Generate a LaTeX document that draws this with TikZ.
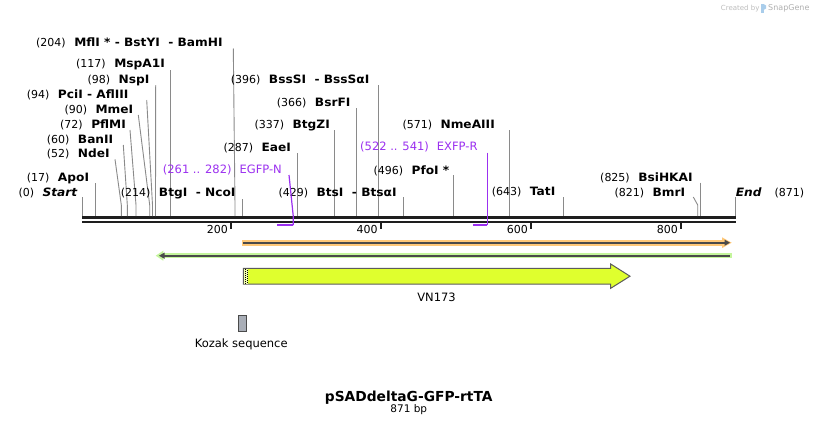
\documentclass[tikz,border=0pt]{standalone}
\usepackage{fontspec}
\setmainfont{DejaVu Sans}
\newfontfamily\enzfont{DejaVu Sans}[FakeStretch=1.06]
\usetikzlibrary{calc}
\definecolor{cutgray}{HTML}{8A8A8A}
\definecolor{bb}{HTML}{1E1E1E}
\definecolor{prim}{HTML}{9B30F0}
\definecolor{orangeL}{HTML}{FFC878}
\definecolor{greenL}{HTML}{C4F59C}
\definecolor{darkln}{HTML}{4A4A4A}
\definecolor{featY}{HTML}{DFFF2E}
\definecolor{kozak}{HTML}{A9AEB7}
\definecolor{wm}{HTML}{BDBDBD}
\definecolor{wmblue}{HTML}{A9CDEB}
\newcommand\enz[1]{{\enzfont\bfseries\fontsize{11.5}{13}\selectfont #1}}
\tikzset{
  lbl/.style={anchor=base west, inner sep=0pt, font=\fontsize{11}{13}\selectfont},
  cutline/.style={draw=cutgray, line width=0.9pt},
  primline/.style={draw=prim, line width=1.2pt},
  primbar/.style={draw=prim, line width=2pt},
  ticklbl/.style={anchor=base east, inner sep=0pt, font=\fontsize{11}{13}\selectfont},
}
% #1 name, #2 label x, #3 baseline y, #4 number, #5 enzyme, #6 top x, #7 top y, #8 site x
\newcommand\cutsite[8]{%
  \node[lbl] (L#1) at (#2,#3) {(#4)\hspace{8.5pt}\enz{#5}};
  \coordinate (T#1) at (#6,#7);
  \coordinate (K#1) at (#8,205);
  \coordinate (S#1) at (#8,216);
  \draw[cutline] (T#1) -- (K#1) -- (S#1);
}
\begin{document}
\begin{tikzpicture}[x=1pt,y=-1pt]
\useasboundingbox (0,0) rectangle (818,426);
\fill[white] (0,0) rectangle (818,426);

% watermark
\node[anchor=base west, inner sep=0pt, text=wm, font=\fontsize{7}{8}\selectfont] (wm1) at (720.7,10) {Created by};
\fill[wmblue] (760.5,4) rectangle (763.5,13);
\fill[wmblue] (763.5,4) -- (766,5.5) -- (766,8.5) -- (763.5,10) -- cycle;
\node[anchor=base west, inner sep=0pt, text=wm!120, font=\fontsize{8}{9}\selectfont] (wm2) at (768,10.3) {SnapGene};

% backbone
\coordinate (B0) at (82,217.5);
\coordinate (B1) at (735.7,217.5);
\draw[bb, line width=3pt] (B0) -- (B1);
\draw[bb, line width=2pt] ($(B0)+(0,4)$) -- ($(B1)+(0,4)$);

% ticks
\foreach \p/\xx in {200/231,400/380.7,600/531,800/681}{
  \coordinate (tk\p) at (\xx,221);
  \draw[bb, line width=1.6pt] (tk\p) -- ++(0,8);
  \node[ticklbl] (tl\p) at (\xx-3,233.3) {\p};
}

% cut sites
\cutsite{a204}{36}{46.7}{204}{MflI * - BstYI\ \ - BamHI}{233.3}{48.5}{235}
\cutsite{a117}{76}{67.7}{117}{MspA1I}{170.3}{70}{170.3}
\cutsite{a98}{87.3}{83.3}{98}{NspI}{155.7}{85}{155.5}
\cutsite{a94}{26.7}{98.3}{94}{PciI - AflIII}{146.7}{100}{152.5}
\cutsite{a90}{64.3}{113.3}{90}{MmeI}{138.3}{115}{149.7}
\cutsite{a72}{60}{128.3}{72}{PflMI}{130}{130}{136}
\cutsite{a60}{46.7}{143.3}{60}{BanII}{123.3}{145}{127.3}
\cutsite{a52}{46.7}{157.7}{52}{NdeI}{115}{159.3}{121.3}
\cutsite{a17}{26.7}{181.7}{17}{ApoI}{95.5}{183}{95.5}
\cutsite{a214}{120.7}{196}{214}{BtgI\ \ - NcoI}{242.3}{199}{242.3}
\cutsite{a287}{223.3}{151}{287}{EaeI}{297.3}{153.3}{297.3}
\cutsite{a337}{254.3}{128.3}{337}{BtgZI}{334.4}{130}{334.4}
\cutsite{a366}{276.7}{106}{366}{BsrFI}{356.6}{108.3}{356.6}
\cutsite{a396}{230.7}{83.3}{396}{BssSI\ \ - BssSαI}{378.6}{85}{378.6}
\cutsite{a429}{278.3}{196.7}{429}{BtsI\ \ - BtsαI}{403.4}{197.3}{403.4}
\cutsite{a496}{373.3}{174}{496}{PfoI *}{453.5}{175}{453.5}
\cutsite{a571}{402.3}{128.3}{571}{NmeAIII}{509.5}{130}{509.5}
\cutsite{a643}{491.7}{195.7}{643}{TatI}{563.5}{197.3}{563.5}
\cutsite{a825}{600}{181}{825}{BsiHKAI}{700.7}{182.7}{700.7}
\cutsite{a821}{614.3}{196.7}{821}{BmrI}{693.3}{197}{697.7}

% start / end
\node[lbl] (Lstart) at (18.3,196) {(0)\hspace{8.5pt}\enz{\itshape Start}};
\coordinate (Tstart) at (82.3,197.3);
\coordinate (Sstart) at (82.3,216);
\draw[cutline] (Tstart) -- (Sstart);
\node[lbl] (Lend) at (735.7,196.7) {\enz{\itshape End}\hspace{13pt}(871)};
\coordinate (Tend) at (735.7,197.3);
\coordinate (Send) at (735.7,216);
\draw[cutline] (Tend) -- (Send);

% primers
\node[lbl, text=prim, font=\fontsize{11.5}{13}\selectfont] (Pn) at (162.7,173.3) {(261 .. 282)\hspace{8pt}EGFP-N};
\coordinate (Pn1) at (289,175);
\coordinate (Pn2) at (293.3,216.7);
\coordinate (Pn3) at (293.3,225);
\coordinate (Pn4) at (277.3,225);
\draw[primline] (Pn1) -- (Pn2) -- (Pn3);
\draw[primbar] (Pn3) -- (Pn4);

\node[lbl, text=prim, font=\fontsize{11.5}{13}\selectfont] (Pr) at (360,150.7) {(522 .. 541)\hspace{8pt}EXFP-R};
\coordinate (Pr1) at (487.3,152.7);
\coordinate (Pr3) at (487.3,225);
\coordinate (Pr4) at (473.3,225);
\draw[primline] (Pr1) -- (Pr3);
\draw[primbar] (Pr3) -- (Pr4);

% orange feature (forward)
\fill[orangeL] (241.7,240) rectangle (723,245.5);
\fill[orangeL] (722,237.3) -- (731.7,242.7) -- (722,248.1) -- cycle;
\draw[darkln, line width=2pt] (243,242.7) -- (726,242.7);
\fill[darkln] (724.5,239.6) -- (730,242.7) -- (724.5,245.8) -- cycle;

% green feature (reverse)
\fill[greenL] (162,253.2) rectangle (731.7,258.2);
\fill[greenL] (155.7,255.7) -- (163.3,250.7) -- (163.3,260.7) -- cycle;
\draw[darkln, line width=2pt] (163,255.7) -- (730,255.7);
\fill[darkln] (159,255.7) -- (164.5,252.6) -- (164.5,258.8) -- cycle;

% VN173
\draw[fill=featY, draw=darkln!90, line width=1pt]
  (243.3,268.3) -- (610.7,268.3) -- (610.7,264) -- (630,276.2) -- (610.7,288.3) -- (610.7,284) -- (243.3,284) -- cycle;
\fill[featY!40!white] (243.8,268.8) rectangle (248.3,283.5);
\draw[black, line width=0.9pt, dash pattern=on 1pt off 1pt] (245.2,268.8) -- (245.2,283.5);
\draw[black, line width=0.9pt, dash pattern=on 1pt off 1pt] (247.2,269.8) -- (247.2,283.5);
\draw[darkln!90, line width=1pt] (243.3,268.3) -- (243.3,284);
\node[anchor=base, inner sep=0pt, font=\fontsize{11.5}{13}\selectfont] (vn) at (436.5,301.7) {VN173};

% Kozak
\draw[fill=kozak, draw=darkln, line width=0.9pt] (238.3,315) rectangle (246.7,331.7);
\node[anchor=base, inner sep=0pt, font=\fontsize{11.5}{13}\selectfont] (kz) at (241.2,347.7) {Kozak sequence};

% title
\node[anchor=base, inner sep=0pt, font=\fontsize{13.8}{16}\selectfont\bfseries] (title) at (408.7,401.7) {pSADdeltaG-GFP-rtTA};
\node[anchor=base, inner sep=0pt, font=\fontsize{10.5}{12}\selectfont] (bp) at (408.8,412.3) {871 bp};
\end{tikzpicture}
\end{document}
